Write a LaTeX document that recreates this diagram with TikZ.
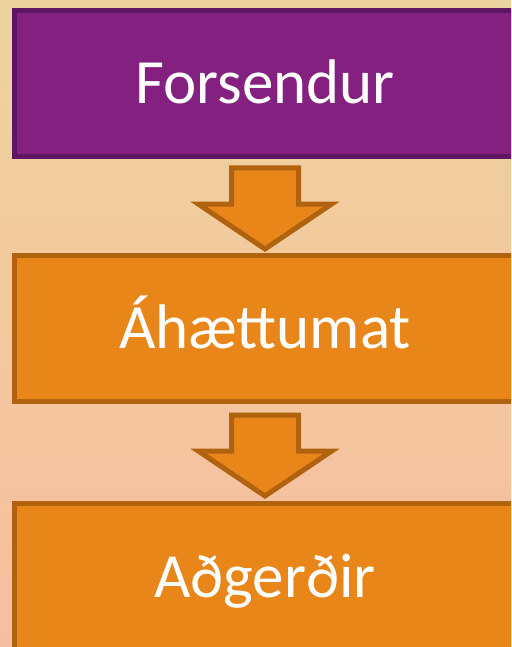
\documentclass[tikz,border=0pt]{standalone}
\usepackage{fontspec}
\setmainfont{Carlito}
\usetikzlibrary{shapes.arrows, positioning}
\usepackage{xcolor}
\definecolor{bgtop}{HTML}{EDD39E}
\definecolor{bgbot}{HTML}{F8BD9F}
\definecolor{purplefill}{HTML}{84207F}
\definecolor{purpleline}{HTML}{5E1660}
\definecolor{orangefill}{HTML}{E8861A}
\definecolor{orangeline}{HTML}{B0620F}

\begin{document}
\begin{tikzpicture}[x=1pt, y=-1pt]

  \tikzstyle{stage} = [rectangle, draw, line width=5pt, minimum width=501pt,
    minimum height=146pt, text=white, font=\fontsize{63}{70}\selectfont,
    text height=40pt, text depth=0pt, inner sep=0pt];
  \tikzstyle{downarrow} = [single arrow, draw=orangeline, fill=orangefill,
    line width=5pt, shape border rotate=270, minimum height=81pt,
    inner xsep=31pt, inner ysep=5pt, single arrow head extend=33pt,
    single arrow tip angle=112];

  \useasboundingbox (0,0) rectangle (511,647);
  \clip (0,0) rectangle (511,647);
  \shade[top color=bgtop, bottom color=bgbot] (0,0) rectangle (511,647);

  \node[stage, fill=purplefill, draw=purpleline] (premise) at (265,83.5) {Forsendur};
  \node[stage, fill=orangefill, draw=orangeline] (risk) at (265,328) {Áhættumat};
  \node[stage, fill=orangefill, draw=orangeline, minimum height=147pt] (action) at (265,577) {Aðgerðir};

  \node[downarrow, anchor=tail] (arrowA) at (265,165.5) {};
  \node[downarrow, anchor=tail] (arrowB) at (265,412.5) {};
\end{tikzpicture}
\end{document}
